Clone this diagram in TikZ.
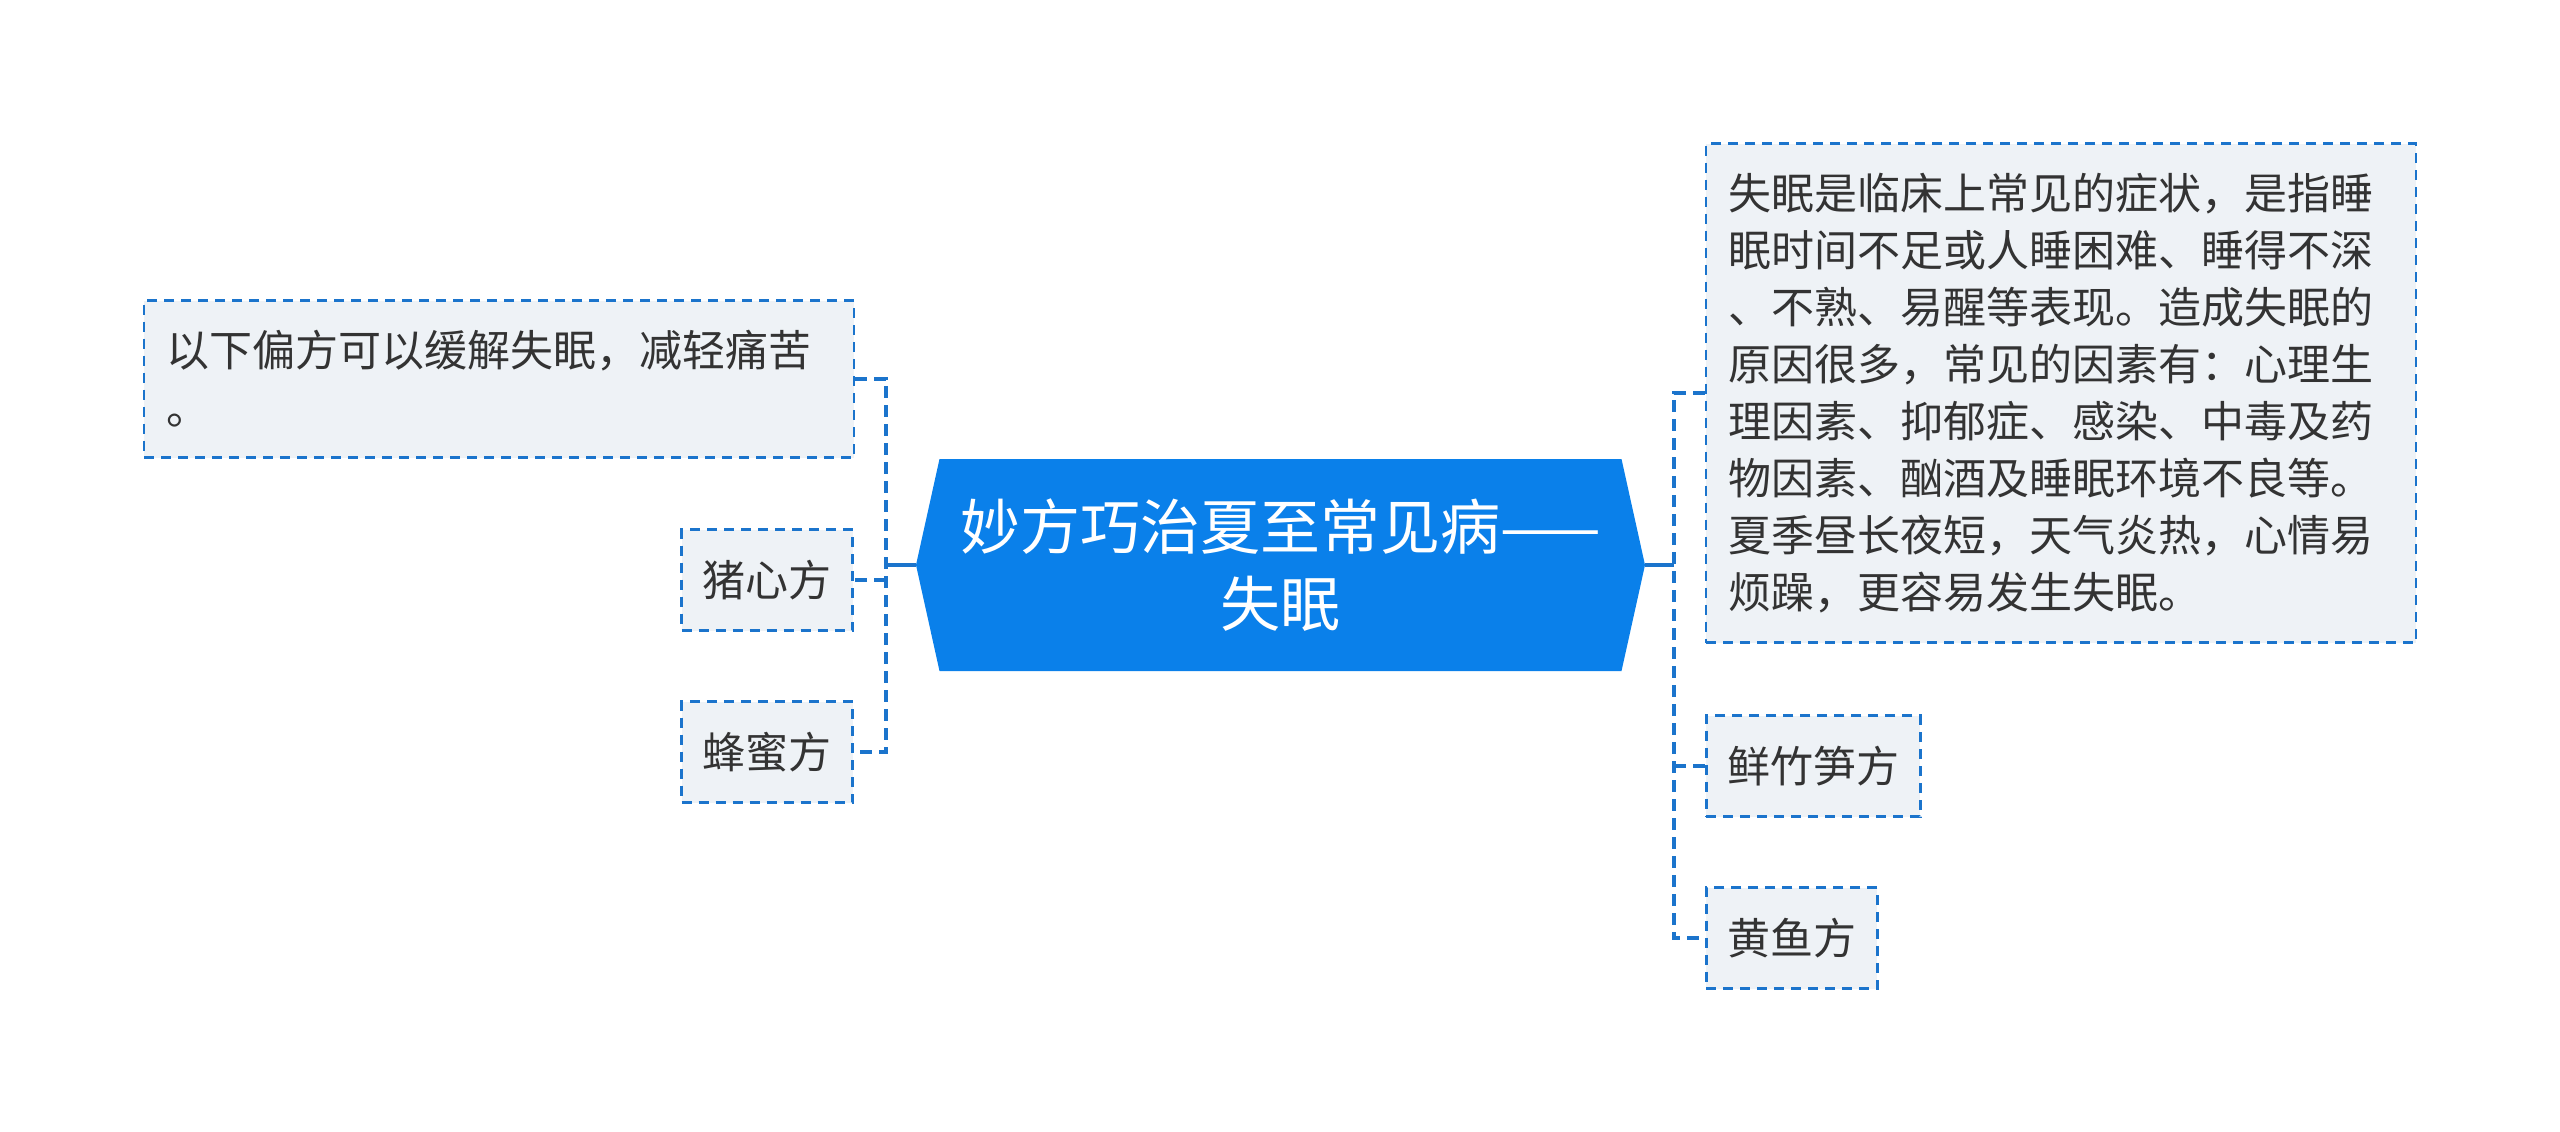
\documentclass[tikz,border=0pt]{standalone}
\usepackage{fontspec}
\setmainfont{Noto Sans CJK SC}
\usepackage{tikz}
\usetikzlibrary{shapes.symbols}
\definecolor{Ink}{HTML}{333333}
\definecolor{Line}{HTML}{1B74CC}
\definecolor{Root}{HTML}{0A80EA}
\definecolor{Leaf}{HTML}{EEF2F6}
\tikzset{root/.style={signal,signal to=east and west,signal pointer angle=155,fill=Root,text=white,draw=none,minimum width=729pt,minimum height=212pt,align=center,inner sep=0pt,font=\fontsize{60}{77}\selectfont},leaf/.style={draw=Line,fill=Leaf,line width=2.6pt,dash pattern=on 10pt off 7pt,text=Ink,minimum height=101pt,inner xsep=21pt,inner ysep=0pt,font=\fontsize{43}{58}\selectfont},textleaf/.style={leaf,align=left,inner xsep=22pt},trunk/.style={draw=Line,line width=3.3pt},branch/.style={draw=Line,line width=4.6pt,dash pattern=on 12pt off 7pt}}

\begin{document}
\begin{tikzpicture}[x=1pt,y=-1pt]
        \useasboundingbox (0,0) rectangle (2560,1132);
        \node[root](main)at(1280.5,565){妙方巧治夏至常见病——\\失眠};
        \node[textleaf,text width=666pt,minimum height=157pt](intro)at(499,379){以下偏方可以缓解失眠，减轻痛苦\\。};
        \node[leaf,anchor=east](pig)at(854,580){猪心方};
        \node[leaf,anchor=east](honey)at(854,752){蜂蜜方};
        \node[textleaf,text width=666pt,minimum height=499pt,font=\fontsize{43}{57}\selectfont](cause)at(2061,393){失眠是临床上常见的症状，是指睡\\眠时间不足或人睡困难、睡得不深\\、不熟、易醒等表现。造成失眠的\\原因很多，常见的因素有：心理生\\理因素、抑郁症、感染、中毒及药\\物因素、酗酒及睡眠环境不良等。\\夏季昼长夜短，天气炎热，心情易\\烦躁，更容易发生失眠。};
        \node[leaf,anchor=west](bamboo)at(1705,766){鲜竹笋方};
        \node[leaf,anchor=west](fish)at(1705,938){黄鱼方};
        % left side
        \coordinate(lj)at(886,565);
        \draw[trunk](main.west)--(lj);
        \draw[branch](intro.east)-|(lj)|-(honey.east);
        \draw[branch](lj|-pig.east)--(pig.east);
        % right side
        \coordinate(rj)at(1674,565);
        \draw[trunk](main.east)--(rj);
        \draw[branch](cause.west)-|(rj)|-(fish.west);
        \draw[branch](rj|-bamboo.west)--(bamboo.west);
      \end{tikzpicture}
\end{document}
